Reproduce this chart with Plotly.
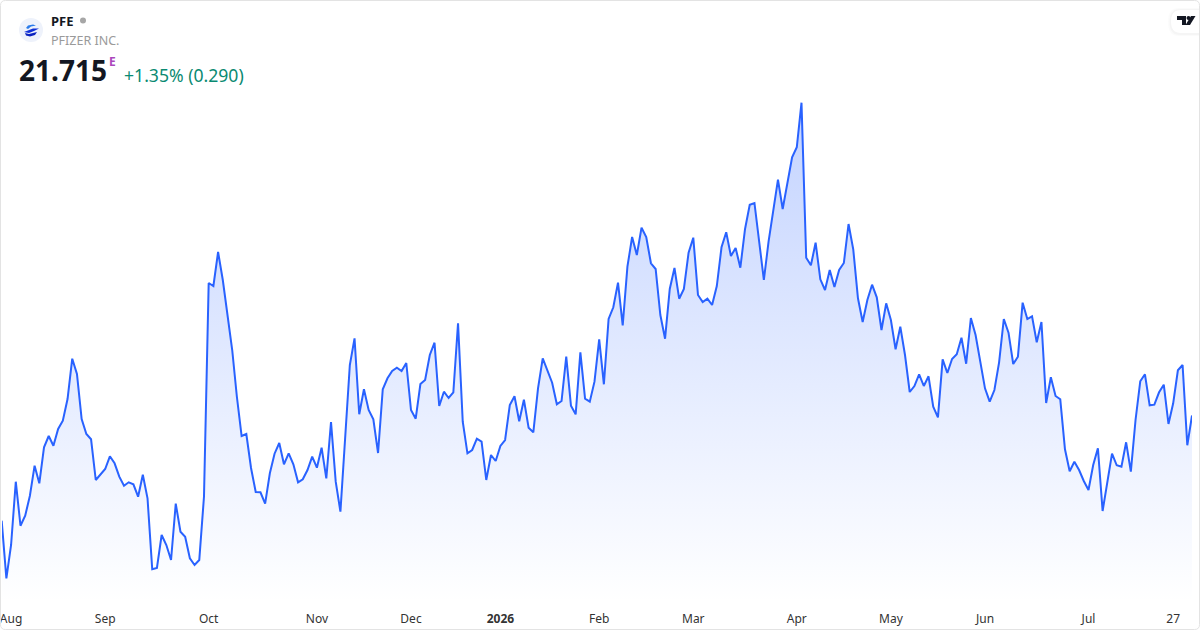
import plotly.graph_objects as go

symbol = "PFE"
company = "PFIZER INC."
last_price = "21.715"
change_text = "+1.35% (0.290)"

price = [
    20.663, 20.087, 20.42, 21.053, 20.613, 20.713, 20.913, 21.213, 21.037, 21.397,
    21.51, 21.413, 21.58, 21.663, 21.88, 22.283, 22.13, 21.68, 21.53, 21.477,
    21.07, 21.13, 21.18, 21.307, 21.237, 21.103, 21.013, 21.047, 21.027, 20.903,
    21.123, 20.887, 20.177, 20.19, 20.52, 20.42, 20.27, 20.833, 20.553, 20.503,
    20.287, 20.22, 20.27, 20.903, 23.04, 23.01, 23.35, 23.07, 22.69, 22.37,
    21.90, 21.51, 21.53, 21.19, 20.95, 20.947, 20.833, 21.137, 21.333, 21.44,
    21.227, 21.337, 21.227, 21.047, 21.077, 21.17, 21.303, 21.193, 21.393, 21.087,
    21.65, 21.053, 20.753, 21.47, 22.22, 22.487, 21.727, 21.977, 21.77, 21.677,
    21.34, 21.977, 22.087, 22.16, 22.193, 22.16, 22.24, 21.77, 21.683, 22.03,
    22.07, 22.32, 22.443, 21.81, 21.953, 21.89, 21.947, 22.637, 21.653, 21.337,
    21.37, 21.483, 21.453, 21.07, 21.32, 21.26, 21.41, 21.47, 21.82, 21.907,
    21.657, 21.873, 21.593, 21.547, 21.987, 22.287, 22.17, 22.043, 21.827, 21.86,
    22.303, 21.813, 21.727, 22.347, 21.883, 21.853, 22.053, 22.477, 22.027, 22.68,
    22.797, 23.043, 22.617, 23.203, 23.50, 23.32, 23.593, 23.50, 23.237, 23.18,
    22.72, 22.483, 22.98, 23.19, 22.883, 22.98, 23.343, 23.493, 22.92, 22.85,
    22.883, 22.82, 23.01, 23.397, 23.547, 23.31, 23.39, 23.193, 23.58, 23.823,
    23.84, 23.453, 23.07, 23.453, 23.77, 24.073, 23.78, 24.037, 24.297, 24.397,
    24.843, 23.293, 23.217, 23.443, 23.077, 22.97, 23.17, 23.00, 23.17, 23.24,
    23.63, 23.377, 22.887, 22.65, 22.87, 23.023, 22.897, 22.57, 22.837, 22.67,
    22.377, 22.603, 22.32, 21.95, 22.01, 22.127, 22.01, 22.107, 21.803, 21.697,
    22.277, 22.14, 22.28, 22.327, 22.493, 22.233, 22.69, 22.52, 22.26, 21.987,
    21.853, 21.97, 22.247, 22.68, 22.543, 22.23, 22.303, 22.843, 22.68, 22.707,
    22.447, 22.65, 21.84, 22.097, 21.91, 21.877, 21.377, 21.157, 21.253, 21.17,
    21.06, 20.97, 21.22, 21.387, 20.76, 21.07, 21.333, 21.217, 21.203, 21.447,
    21.153, 21.67, 22.057, 22.127, 21.817, 21.823, 21.947, 22.023, 21.63, 21.837,
    22.167, 22.22, 21.417, 21.715,
]
floor_price = 19.85

tick_labels = ["Aug", "Sep", "Oct", "Nov", "Dec", "<b>2026</b>", "Feb", "Mar", "Apr", "May", "Jun", "Jul", "27"]
tick_sessions = [2, 22, 44, 67, 87, 106, 127, 147, 169, 189, 209, 231, 249]

session = list(range(len(price)))
W, H = 1200, 630
LEFT, RIGHT, TOP, BOTTOM = 2, 8, 2, 25
FONT = "Noto Sans"


# paper coords are relative to the plot area, so convert from page pixels
def px(x):
    return (x - LEFT) / (W - LEFT - RIGHT)


def py(y):
    return 1 - (y - TOP) / (H - TOP - BOTTOM)


def label(x, y, text, size, color, anchor="left"):
    fig.add_annotation(x=px(x), y=py(y), xref="paper", yref="paper", text=text, showarrow=False,
                       xanchor=anchor, yanchor="middle", borderpad=0,
                       font=dict(family=FONT, size=size, color=color))


def path_shape(points, color):
    d = "M " + " L ".join("{:.5f} {:.5f}".format(px(a), py(b)) for a, b in points) + " Z"
    fig.add_shape(type="path", xref="paper", yref="paper", path=d, fillcolor=color, line_width=0, layer="above")


def circle(cx, cy, r, color):
    fig.add_shape(type="circle", xref="paper", yref="paper", x0=px(cx - r), x1=px(cx + r),
                  y0=py(cy + r), y1=py(cy - r), fillcolor=color, line_width=0, layer="above")


def pill(left, top, bottom, color):
    mid = (top + bottom) / 2
    fig.add_shape(type="path", xref="paper", yref="paper", layer="above", line_width=0, fillcolor=color,
                  path="M {x1} {y0} L {x0} {y0} Q {xc} {y0} {xc} {ym} Q {xc} {y1} {x0} {y1} L {x1} {y1} Z".format(
                      x1=px(1199), x0=px(left + 10), xc=px(left), y0=py(top), y1=py(bottom), ym=py(mid)))


fig = go.Figure()
fig.add_trace(go.Scatter(x=session, y=[floor_price] * len(price), mode="lines",
                         line=dict(width=0), hoverinfo="skip", showlegend=False))
fig.add_trace(go.Scatter(x=session, y=price, mode="lines", fill="tonexty", cliponaxis=False,
                         line=dict(color="#2962ff", width=2), showlegend=False,
                         fillgradient=dict(type="vertical",
                                           colorscale=[[0, "rgba(41,98,255,0.0)"], [1, "rgba(41,98,255,0.28)"]])))

fig.update_layout(
    width=W, height=H, plot_bgcolor="white", paper_bgcolor="white",
    margin=dict(l=LEFT, r=RIGHT, t=TOP, b=BOTTOM, pad=0),
    xaxis=dict(range=[0.07, len(price) - 1], automargin=False, showgrid=False, zeroline=False, showline=False,
               tickmode="array", tickvals=tick_sessions, ticktext=tick_labels, ticks="outside", ticklen=3,
               tickcolor="rgba(0,0,0,0)", ticklabeloverflow="allow",
               tickfont=dict(family=FONT, size=12, color="#333333")),
    yaxis=dict(range=[19.82, 25.85], visible=False, automargin=False),
)

# card border
x0, x1, y0, y1 = px(0.5), px(1199.5), py(629.5), py(0.5)
rx, ry = px(5) - px(0), py(0) - py(5)
fig.add_shape(type="path", xref="paper", yref="paper", layer="above", line=dict(color="#e3e3e3", width=1),
              path=f"M {x0} {y0 + ry} Q {x0} {y0} {x0 + rx} {y0} L {x1 - rx} {y0} Q {x1} {y0} {x1} {y0 + ry} "
                   f"L {x1} {y1 - ry} Q {x1} {y1} {x1 - rx} {y1} L {x0 + rx} {y1} Q {x0} {y1} {x0} {y1 - ry} Z")

# header
label(50, 20.5, "<b>" + symbol + "</b>", 13, "#131722")
circle(83, 20.5, 3, "#a6a6a6")
label(50, 40.5, company, 12.5, "#9a9a9a")
label(18, 70.5, "<b>" + last_price + "</b>", 28, "#131722")
label(107.5, 61.5, "<b>E</b>", 12, "#ab47bc")
label(122.5, 75, change_text, 17.6, "#0a8a72")

# company badge
circle(31, 30, 12, "#eef2fb")
path_shape([(26, 28), (28, 25.5), (33, 24.5), (36, 25.5), (31, 26.5), (28, 29)], "#2a7bea")
path_shape([(24, 32), (33, 28.5), (39, 28.5), (34, 31), (29, 33)], "#1030d8")
path_shape([(25, 33), (29, 34), (37, 32), (35, 35), (30, 36.5), (26, 35.5)], "#0a22c0")

# TradingView badge
pill(1168, 8, 36, "rgba(0,0,0,0.015)")
pill(1169.5, 9, 35, "rgba(0,0,0,0.025)")
pill(1171, 10, 33, "white")
path_shape([(1177, 16), (1186, 16), (1186, 25), (1182, 25), (1182, 20), (1177, 20)], "#131722")
circle(1188.5, 18, 2, "#131722")
path_shape([(1191, 16), (1195.5, 16), (1190, 25), (1185.5, 25)], "#131722")

fig.write_html("out.html", config=dict(displayModeBar=False),
               post_script="document.body.style.margin='0';document.body.style.overflow='hidden';")
